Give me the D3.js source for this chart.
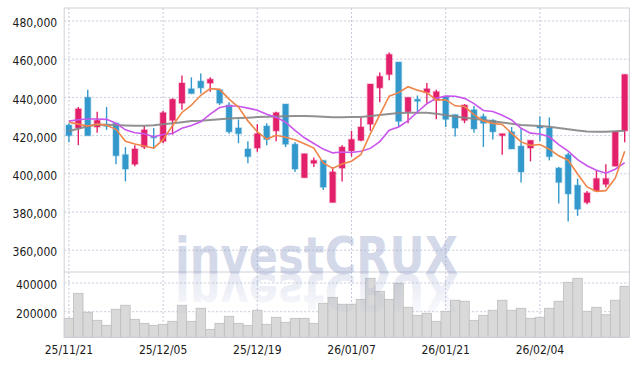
<!DOCTYPE html>
<html><head><meta charset="utf-8">
<script src="https://cdn.jsdelivr.net/npm/d3@7"></script>
<style>html,body{margin:0;padding:0;background:#fff;}svg{display:block}</style>
</head><body><svg id="c" width="638" height="366"></svg>
<script>
const dates = ["25/11/21","25/11/24","25/11/25","25/11/26","25/11/27","25/11/28","25/12/01","25/12/02","25/12/03","25/12/04",
"25/12/05","25/12/08","25/12/09","25/12/10","25/12/11","25/12/12","25/12/15","25/12/16","25/12/17","25/12/18",
"25/12/19","25/12/22","25/12/23","25/12/24","25/12/26","25/12/29","25/12/30","26/01/02","26/01/05","26/01/06",
"26/01/07","26/01/08","26/01/09","26/01/12","26/01/13","26/01/14","26/01/15","26/01/16","26/01/19","26/01/20",
"26/01/21","26/01/22","26/01/23","26/01/26","26/01/27","26/01/28","26/01/29","26/01/30","26/02/02","26/02/03",
"26/02/04","26/02/05","26/02/06","26/02/09","26/02/10","26/02/11","26/02/12","26/02/13","26/02/19","26/02/20"];
const open = [425500,424000,440000,424500,425500,426500,410000,405000,414000,419500,
417000,428000,437000,444500,448500,447500,444000,436000,424000,413000,
413500,425000,422500,436500,415500,398000,405500,407000,385000,403000,
412000,417500,426000,445000,452000,458500,432500,439000,442500,438500,
440500,431000,428000,433500,430000,428000,420000,422000,414500,413500,
425000,424000,403000,410000,394000,385000,391000,394500,404000,422500];
const high = [426500,435000,444000,432500,435000,426500,414000,415000,425000,424000,
433000,439500,451500,450500,452500,450500,444500,437500,428500,417000,
426000,426500,432500,436500,416500,410500,408500,407000,403500,415000,
422500,429500,447000,453000,463500,458500,440000,441000,447500,444000,
440500,431000,436500,435500,431500,428500,421000,424500,424000,417500,
430000,429500,403500,411000,397500,391000,402000,405000,422000,452000];
const low = [416500,415000,420000,421500,423000,405000,396000,404000,413000,413000,
416000,420500,433500,442000,442000,443000,436000,421000,416000,405500,
411500,415000,417000,414000,401000,398000,403500,391500,385000,396000,
409000,417000,422500,437500,449000,424500,426500,431500,437000,428500,
424500,419500,426500,421500,414000,418000,410000,413000,395500,406500,
417000,407000,384500,375000,378000,384000,391000,393000,404000,416500];
const close = [420000,434000,420000,428000,425000,409500,402500,413000,423000,419000,
432000,439000,447500,442000,445000,449500,437000,422000,421000,409000,
421000,418000,432000,415500,402500,410500,407000,393000,401000,414000,
418000,424500,447000,451000,462500,427500,440000,438000,444500,443000,
428500,424000,436000,423500,426500,422000,421000,413000,401000,417500,
424000,409000,395500,389500,381500,390000,397500,397500,422000,452000];
const volume = [154000,328000,196000,140000,105000,217000,245000,147000,119000,105000,
112000,133000,245000,133000,224000,77000,119000,168000,119000,105000,
210000,112000,161000,126000,154000,154000,119000,259000,300000,252000,
252000,286000,433000,342000,286000,398000,231000,175000,189000,133000,
203000,280000,273000,140000,175000,210000,280000,210000,224000,154000,
161000,224000,273000,405000,433000,203000,231000,179000,280000,377000];
const ma5 = [427000,426000,425000,426000,425400,423300,417000,415600,414600,413400,
417900,425200,432100,435900,441100,444600,444200,439100,434900,427700,
422000,418200,420200,419100,417800,415700,413500,405700,402800,405100,
406600,410100,420900,430900,440600,442500,445600,443800,442500,438600,
438800,435600,435200,431000,427700,426400,425800,421200,416700,414900,
415300,412900,409400,407100,399900,393100,390800,391200,397700,411800];
const ma10 = [427600,428300,428700,428700,428500,426500,423000,421500,421000,419400,
420600,421100,423850,425250,427250,431250,434700,435600,435400,434400,
433300,431200,429650,427000,422750,418850,415850,412950,410950,411450,
411150,411800,413300,416850,422850,424550,427850,432350,436700,439600,
440650,440600,439500,436750,433150,432600,430700,428200,423850,421300,
420850,419350,415300,411900,407400,404200,401850,400300,402400,405850];
const maLong = [422400,423600,424900,425800,425700,425500,425300,425100,425100,425400,
425900,426500,427000,427600,427800,428200,428600,428900,429200,429400,
429700,429900,430000,430100,430200,430200,430100,429900,429600,429600,
429700,429800,430200,430800,431300,431800,432000,432000,431900,431500,
430700,430000,429300,428800,428200,427500,426800,426200,425600,425300,
425000,424600,424000,423300,422700,422200,422000,422000,422300,422600];
const priceTicks = [360000,380000,400000,420000,440000,460000,480000];
const volumeTicks = [200000,400000];
const dateTicks = ["25/11/21","25/12/05","25/12/19","26/01/07","26/01/21","26/02/04"];

const svg = d3.select("#c");
const L = 64.2, R = 629.4, T = 8, MB = 272, VB = 337.3;
const x = d3.scaleBand().domain(dates).range([L, R]).padding(0);
const cx = d => x(d) + x.bandwidth() / 2;
const y = d3.scaleLinear().domain([348586, 486806]).range([MB, T]);
const yv = d3.scaleLinear().domain([21600, 476700]).range([VB, MB]);
const gridC = "#c5cadc";
const fontF = "'DejaVu Sans Condensed','DejaVu Sans',sans-serif";

// grid
const g = svg.append("g");
g.selectAll(".hg").data(priceTicks).join("line")
  .attr("x1", L).attr("x2", R).attr("y1", d => y(d)).attr("y2", d => y(d))
  .attr("stroke", gridC).attr("stroke-dasharray", "2,2").attr("stroke-width", 1);
g.selectAll(".vg").data(volumeTicks).join("line")
  .attr("x1", L).attr("x2", R).attr("y1", d => yv(d)).attr("y2", d => yv(d))
  .attr("stroke", gridC).attr("stroke-dasharray", "2,2").attr("stroke-width", 1);
g.selectAll(".xg").data(dateTicks).join("line")
  .attr("x1", d => cx(d)).attr("x2", d => cx(d)).attr("y1", T).attr("y2", VB)
  .attr("stroke", gridC).attr("stroke-dasharray", "2,2").attr("stroke-width", 1);

// volume bars
const idx = d3.range(dates.length);
svg.append("g").selectAll("rect").data(idx).join("rect")
  .attr("x", i => x(dates[i])).attr("width", x.bandwidth())
  .attr("y", i => yv(volume[i])).attr("height", i => VB - yv(volume[i]))
  .attr("fill", "#d9d9d9").attr("stroke", "#bdbdbd").attr("stroke-width", 0.8);

// candles
const up = "#e3206b", dn = "#3399cc";
const cg = svg.append("g");
cg.selectAll("line").data(idx).join("line")
  .attr("x1", i => cx(dates[i])).attr("x2", i => cx(dates[i]))
  .attr("y1", i => y(high[i])).attr("y2", i => y(low[i]))
  .attr("stroke", i => close[i] >= open[i] ? up : dn).attr("stroke-width", 1.4);
const bw = 5.8;
cg.selectAll("rect").data(idx).join("rect")
  .attr("x", i => cx(dates[i]) - bw / 2).attr("width", bw)
  .attr("y", i => y(Math.max(open[i], close[i])))
  .attr("height", i => Math.max(1.2, Math.abs(y(open[i]) - y(close[i]))))
  .attr("fill", i => close[i] >= open[i] ? up : dn)
  .attr("stroke", i => close[i] >= open[i] ? up : dn)
  .attr("stroke-opacity", 0.3).attr("stroke-width", 1.6);

// moving averages
const line = arr => d3.line().x((d, i) => cx(dates[i])).y(d => y(d))(arr);
svg.append("path").attr("d", line(maLong)).attr("fill", "none").attr("stroke", "#858585").attr("stroke-width", 2).attr("stroke-opacity", 0.9);
svg.append("path").attr("d", line(ma10)).attr("fill", "none").attr("stroke", "#c956ec").attr("stroke-width", 1.6);
svg.append("path").attr("d", line(ma5)).attr("fill", "none").attr("stroke", "#ef8548").attr("stroke-width", 1.6);

// frame
const fr = svg.append("g").attr("stroke", "#cfd1da").attr("fill", "none");
fr.append("rect").attr("x", L).attr("y", T).attr("width", R - L).attr("height", VB - T);
fr.append("line").attr("x1", L).attr("x2", R).attr("y1", MB).attr("y2", MB);

// axes
const ay = svg.append("g").attr("transform", `translate(${L},0)`)
  .call(d3.axisLeft(y).tickValues(priceTicks).tickFormat(d3.format(",")).tickSize(0).tickPadding(7));
const av = svg.append("g").attr("transform", `translate(${L},0)`)
  .call(d3.axisLeft(yv).tickValues(volumeTicks).tickFormat(d3.format("d")).tickSize(0).tickPadding(7));
const ax = svg.append("g").attr("transform", `translate(0,${VB})`)
  .call(d3.axisBottom(x).tickValues(dateTicks).tickSize(0).tickPadding(6));
[ay, av, ax].forEach(a => {
  a.select(".domain").remove();
  a.selectAll("text").style("font-family", fontF).style("font-size", "12px").attr("fill", "#1a1a1a");
});
ay.selectAll("text").attr("dy", "0.47em");
av.selectAll("text").attr("dy", "0.47em");
ax.selectAll("text").attr("dy", "0.9em");

// watermark
const defs = svg.append("defs");
const lg = defs.append("linearGradient").attr("id", "refl").attr("gradientUnits", "userSpaceOnUse")
  .attr("x1", 0).attr("x2", 0).attr("y1", 274).attr("y2", 232);
lg.append("stop").attr("offset", 0).attr("stop-color", "#8e9ac8").attr("stop-opacity", 0.22);
lg.append("stop").attr("offset", 1).attr("stop-color", "#8e9ac8").attr("stop-opacity", 0.04);
const wm = svg.append("g").style("font-family", "'DejaVu Sans', sans-serif").style("font-weight", 700).style("font-size", "52px");
wm.append("text").attr("x", 175).attr("y", 274).attr("textLength", 283).attr("lengthAdjust", "spacingAndGlyphs")
  .attr("fill", "#8e9ac8").attr("fill-opacity", 0.4).text("investCRUX");
wm.append("text").attr("transform", "translate(0,548) scale(1,-1)").attr("x", 175).attr("y", 274)
  .attr("textLength", 283).attr("lengthAdjust", "spacingAndGlyphs")
  .attr("fill", "url(#refl)").text("investCRUX");
</script></body></html>
